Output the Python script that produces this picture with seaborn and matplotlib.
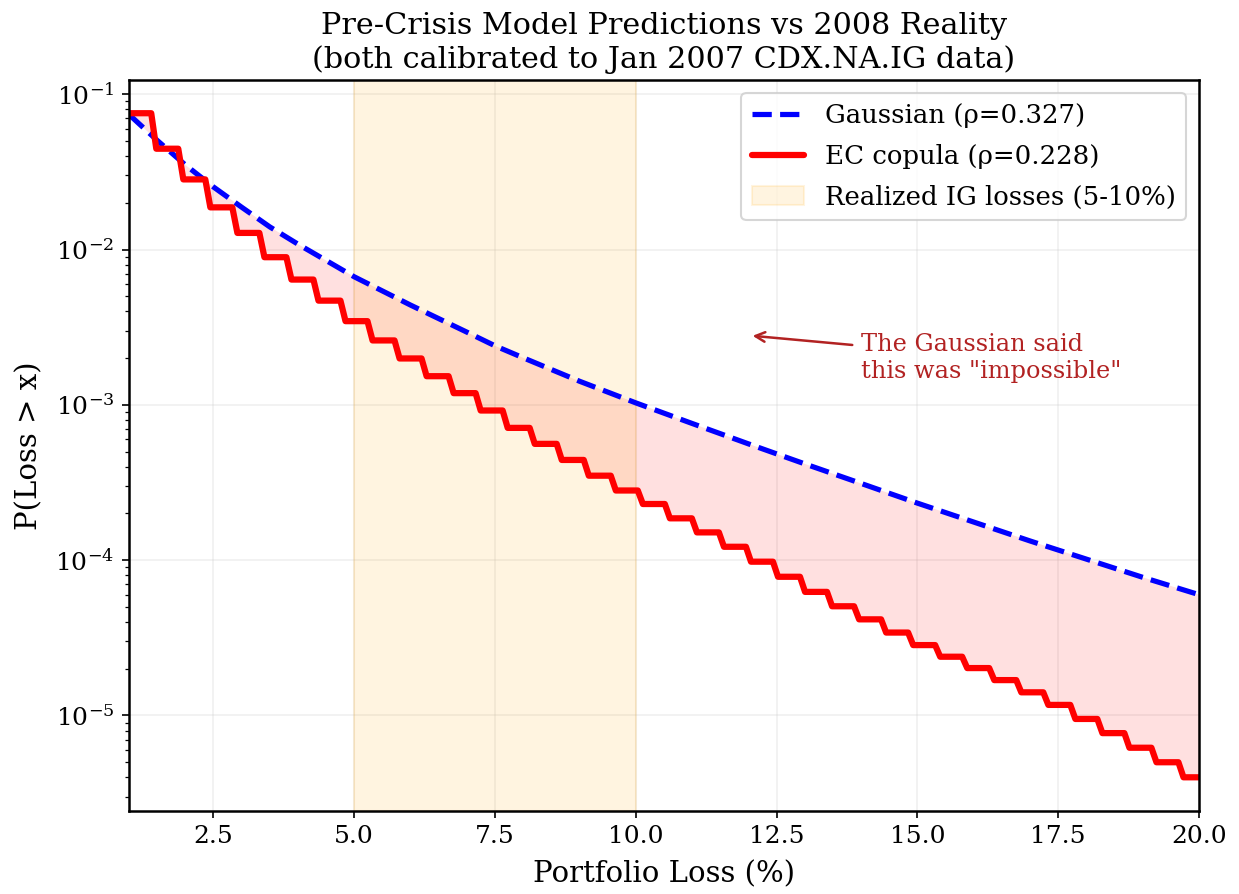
import numpy as np
import pandas as pd
import matplotlib
matplotlib.use('Agg')
import matplotlib.pyplot as plt
import seaborn as sns

# Gaussian copula tail probability
gauss_x = [1.0, 1.5, 2.0, 2.5, 3.0, 3.5, 4.0, 5.0, 6.0, 7.0, 7.5, 8.0, 9.0, 10.0,
           11.0, 12.0, 13.0, 14.0, 15.0, 16.0, 17.0, 18.0, 19.0, 20.0]
gauss_p = [0.0741, 0.0505, 0.0351, 0.0253, 0.01875, 0.0140, 0.01084, 0.00668,
           0.00439, 0.00294, 0.00240, 0.00201, 0.00142, 0.00103, 0.000759,
           0.000561, 0.000417, 0.000312, 0.000233, 0.000176, 0.000133,
           0.0001016, 7.76e-5, 6.00e-5]

# EC copula: loss jumps in units of one default (0.48% of the portfolio)
ec_edges = [1.44, 1.92, 2.40, 2.88, 3.36, 3.84, 4.32, 4.80, 5.28, 5.76, 6.24,
            6.72, 7.20, 7.68, 8.16, 8.64, 9.12, 9.60, 10.08, 10.56, 11.04, 11.52,
            12.00, 12.48, 12.96, 13.44, 13.92, 14.40, 14.88, 15.36, 15.84, 16.32,
            16.80, 17.28, 17.76, 18.24, 18.72, 19.20, 19.68]
ec_levels = [0.0755, 0.0446, 0.0283, 0.0187, 0.0128, 0.00893, 0.00641, 0.00469,
             0.00346, 0.00260, 0.00199, 0.00153, 0.00119, 0.000920, 0.000711,
             0.000561, 0.000442, 0.000350, 0.000281, 0.000230, 0.000186,
             0.000151, 0.000122, 9.78e-5, 7.82e-5, 6.25e-5, 5.05e-5, 4.16e-5,
             3.42e-5, 2.84e-5, 2.39e-5, 2.02e-5, 1.69e-5, 1.41e-5, 1.17e-5,
             9.5e-6, 7.7e-6, 6.2e-6, 5.0e-6, 4.0e-6]

x_min, x_max = 1.0, 20.0
realized_lo, realized_hi = 5.0, 10.0

# build the EC step curve (evaluated on a grid, so jumps are slightly slanted)
half = 0.045
ec_x = [x_min]
ec_p = [ec_levels[0]]
for i, e in enumerate(ec_edges):
    ec_x += [e - half, e + half]
    ec_p += [ec_levels[i], ec_levels[i + 1]]
ec_x.append(x_max)
ec_p.append(ec_levels[-1])

df_g = pd.DataFrame({'loss': gauss_x, 'p': gauss_p})
df_ec = pd.DataFrame({'loss': ec_x, 'p': ec_p})

sns.set_style('ticks')
plt.rcParams['font.family'] = ['DejaVu Serif']
plt.rcParams['mathtext.fontset'] = 'dejavuserif'
for k in ['text.color', 'axes.labelcolor', 'xtick.color', 'ytick.color', 'axes.edgecolor']:
    plt.rcParams[k] = 'black'

fig, ax = plt.subplots(figsize=(1239 / 150, 894 / 150), dpi=150)
fig.subplots_adjust(left=0.1041, right=0.9677, top=0.9105, bottom=0.0934)
ax.set_yscale('log')

# gap between the two models
ax.fill(np.concatenate([df_g['loss'], df_ec['loss'][::-1]]),
        np.concatenate([df_g['p'], df_ec['p'][::-1]]),
        color='red', alpha=0.12, lw=0)

sns.lineplot(data=df_g, x='loss', y='p', ax=ax, color='blue', linestyle='--',
             lw=2.5, label='Gaussian (ρ=0.327)', estimator=None, sort=False)
sns.lineplot(data=df_ec, x='loss', y='p', ax=ax, color='red', lw=3,
             label='EC copula (ρ=0.228)', estimator=None, sort=False)
ax.axvspan(realized_lo, realized_hi, color='orange', alpha=0.12,
           label='Realized IG losses (5-10%)')

ax.annotate('The Gaussian said\nthis was "impossible"', xy=(12, 2.8e-3),
            xytext=(14, 1.5e-3), fontsize=11.5, color='firebrick',
            arrowprops=dict(arrowstyle='->', color='firebrick', lw=1.2))

ax.set_xlim(x_min, x_max)
ax.set_xlabel('Portfolio Loss (%)', fontsize=14, labelpad=6)
ax.set_ylabel('P(Loss > x)', fontsize=14, labelpad=6)
ax.set_title('Pre-Crisis Model Predictions vs 2008 Reality\n'
             '(both calibrated to Jan 2007 CDX.NA.IG data)', fontsize=14.5)
ax.tick_params(labelsize=12)
ax.grid(True, alpha=0.3)
for s in ax.spines.values():
    s.set_linewidth(1.2)
ax.legend(loc='upper right', fontsize=12.5, labelspacing=0.6)

fig.savefig('out.png', dpi=150)
